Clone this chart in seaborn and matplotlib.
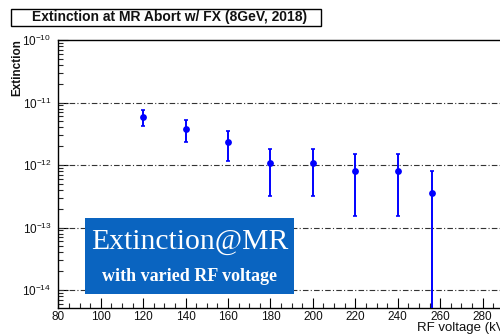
import numpy as np
import pandas as pd
import matplotlib
matplotlib.use("Agg")
import matplotlib.pyplot as plt
from matplotlib.patches import Rectangle
from matplotlib.ticker import LogLocator, MultipleLocator, NullFormatter
import seaborn as sns

# ---- data ----
rf_voltage = [120, 140, 160, 180, 200, 220, 240, 256]
extinction = [5.85e-12, 3.77e-12, 2.32e-12, 1.08e-12, 1.08e-12, 8.1e-13, 8.1e-13, 3.6e-13]
err_high = [7.66e-12, 5.24e-12, 3.56e-12, 1.82e-12, 1.82e-12, 1.48e-12, 1.48e-12, 8.1e-13]
err_low = [4.21e-12, 2.32e-12, 1.17e-12, 3.2e-13, 3.2e-13, 1.5e-13, 1.5e-13, 1e-30]

title = "Extinction at MR Abort w/ FX (8GeV, 2018)"
xlabel = "RF voltage (kV)"
ylabel = "Extinction"
badge_main = "Extinction@MR"
badge_sub = "with varied RF voltage"

df = pd.DataFrame({"rf": rf_voltage, "ext": extinction,
                   "hi": err_high, "lo": err_low})

sns.set_theme(style="ticks")
plt.rcParams["font.family"] = ["Liberation Sans", "DejaVu Sans"]
plt.rcParams["mathtext.fontset"] = "custom"
plt.rcParams["mathtext.rm"] = "Liberation Sans"
plt.rcParams["mathtext.it"] = "Liberation Sans:italic"
plt.rcParams["mathtext.bf"] = "Liberation Sans:bold"

fig = plt.figure(figsize=(5.0, 3.34), dpi=100)
fig.patch.set_facecolor("white")
ax = fig.add_axes([58.3 / 500, 1 - 308 / 334, (525 - 58.3) / 500, (308 - 40) / 334])
ax.set_facecolor("white")

ax.set_yscale("log")
ax.set_xlim(80, 300)
ax.set_ylim(10 ** (-14.288), 1e-10)

# grid: dash-dot lines at decades
for d in [-11, -12, -13, -14]:
    ax.axhline(10.0 ** d, color="#333333", lw=0.8, ls=(0, (5, 2, 1, 2)), zorder=1)

yerr = np.vstack([df["ext"] - df["lo"], df["hi"] - df["ext"]])
ax.errorbar(df["rf"], df["ext"], yerr=yerr, fmt="none", ecolor="#0000ff",
            elinewidth=1.4, capsize=1.6, capthick=1.2, zorder=3)
sns.scatterplot(data=df, x="rf", y="ext", ax=ax, color="#0000ff", s=24,
                edgecolor="#0000ff", linewidth=0, zorder=4, legend=False)

ax.set_xlabel("")
ax.set_ylabel("")

# ticks, ROOT style (inward)
ax.xaxis.set_major_locator(MultipleLocator(20))
ax.xaxis.set_minor_locator(MultipleLocator(5))
ax.yaxis.set_major_locator(LogLocator(base=10, numticks=20))
ax.yaxis.set_minor_locator(LogLocator(base=10, subs=np.arange(2, 10), numticks=20))
ax.yaxis.set_minor_formatter(NullFormatter())
ax.tick_params(axis="both", which="major", direction="in", length=7, width=0.8,
               colors="black", labelsize=8.5, top=False, right=False)
ax.tick_params(axis="both", which="minor", direction="in", length=3.5, width=0.8,
               top=False, right=False)
ax.tick_params(axis="x", which="major", pad=2)
ax.tick_params(axis="y", which="major", pad=5)
for lab in ax.get_xticklabels() + ax.get_yticklabels():
    lab.set_color("#111111")
for s in ax.spines.values():
    s.set_color("black")
    s.set_linewidth(1.0)

# axis titles, ROOT style (at the far ends)
fig.text(509 / 500, 1 - 328.5 / 334, xlabel, ha="right", va="center",
         fontsize=9.5, color="#111111")
fig.text(17 / 500, 1 - 39 / 334, ylabel, ha="center", va="top", rotation=90,
         fontsize=8.5, fontweight="bold", color="#111111")

# title box
fig.text(169.5 / 500, 1 - 17.5 / 334, title, ha="center", va="center",
         fontsize=10, fontweight="bold", color="#111111")
fig.patches.append(Rectangle((11 / 500, 1 - 26 / 334), (321 - 11) / 500, (26 - 8.5) / 334,
                             transform=fig.transFigure, facecolor="none",
                             edgecolor="black", lw=1.0, zorder=5))

# blue badge
fig.patches.append(Rectangle((85 / 500, 1 - 294.3 / 334), (294 - 85) / 500, (294.3 - 217.7) / 334,
                             transform=fig.transFigure, facecolor="#0a64c0",
                             edgecolor="none", zorder=6))
fig.text(189.5 / 500, 1 - 242 / 334, badge_main, ha="center", va="center",
         fontsize=21.3, color="white", family=["Liberation Serif", "DejaVu Serif"], zorder=7)
fig.text(189.5 / 500, 1 - 276.5 / 334, badge_sub, ha="center", va="center",
         fontsize=13, fontweight="bold", color="white",
         family=["Liberation Serif", "DejaVu Serif"], zorder=7)

fig.savefig("out.png", dpi=100, facecolor="white")
